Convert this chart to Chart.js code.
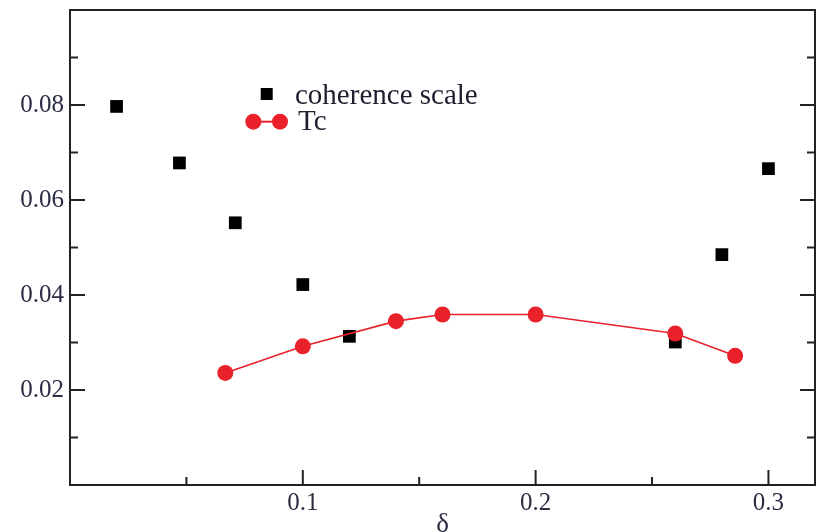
<!DOCTYPE html>
<html>
<head>
<meta charset="utf-8">
<script src="https://cdn.jsdelivr.net/npm/chart.js@4"></script>
<style>
  html, body { margin: 0; padding: 0; background: #fff; }
  #wrap { width: 819px; height: 532px; }
</style>
</head>
<body>
<div id="wrap"><canvas id="c" width="819" height="532"></canvas></div>
<script>
// ---- data ----
const coherenceX = [0.020, 0.047, 0.071, 0.100, 0.120, 0.260, 0.280, 0.300];
const coherenceY = [0.0797, 0.0678, 0.0552, 0.0422, 0.0313, 0.0301, 0.0485, 0.0666];
const tcX = [0.0667, 0.100, 0.140, 0.160, 0.200, 0.260, 0.2857];
const tcY = [0.0236, 0.0292, 0.0345, 0.0359, 0.0359, 0.0319, 0.0272];
const xMajorTicks = [0.1, 0.2, 0.3];
const xMinorTicks = [0.05, 0.15, 0.25];
const yMajorTicks = [0.02, 0.04, 0.06, 0.08];
const yMinorTicks = [0.01, 0.03, 0.05, 0.07, 0.09];
const seriesNames = ['coherence scale', 'Tc'];
const xTitle = 'δ';

const SERIF = "'Liberation Serif', 'Times New Roman', serif";
const RED = '#e8212b';
const FRAME = '#222';
const TEXT = '#2b2d45';

const framePlugin = {
  id: 'frameTicks',
  afterDraw(chart) {
    const ctx = chart.ctx, a = chart.chartArea;
    const xs = chart.scales.x, ys = chart.scales.y;
    ctx.save();
    ctx.strokeStyle = FRAME;
    ctx.lineWidth = 2;
    ctx.strokeRect(a.left, a.top, a.right - a.left, a.bottom - a.top);
    const major = 15, minor = 8;
    ctx.beginPath();
    xMajorTicks.forEach(v => { const p = xs.getPixelForValue(v); ctx.moveTo(p, a.bottom); ctx.lineTo(p, a.bottom - major); });
    xMinorTicks.forEach(v => { const p = xs.getPixelForValue(v); ctx.moveTo(p, a.bottom); ctx.lineTo(p, a.bottom - minor); });
    yMajorTicks.forEach(v => { const p = ys.getPixelForValue(v);
      ctx.moveTo(a.left, p); ctx.lineTo(a.left + major, p);
      ctx.moveTo(a.right, p); ctx.lineTo(a.right - major, p); });
    yMinorTicks.forEach(v => { const p = ys.getPixelForValue(v);
      ctx.moveTo(a.left, p); ctx.lineTo(a.left + minor, p);
      ctx.moveTo(a.right, p); ctx.lineTo(a.right - minor, p); });
    ctx.stroke();

    // legend inside the plot
    const ds0 = chart.data.datasets[0], ds1 = chart.data.datasets[1];
    const lx = a.left, ly = a.top;
    ctx.fillStyle = ds0.pointBackgroundColor;
    ctx.fillRect(lx + 190.7, ly + 78, 12, 12);
    ctx.strokeStyle = ds1.borderColor;
    ctx.lineWidth = 2;
    ctx.beginPath(); ctx.moveTo(lx + 183.3, ly + 111.7); ctx.lineTo(lx + 210, ly + 111.7); ctx.stroke();
    ctx.fillStyle = ds1.pointBackgroundColor;
    [183.3, 210].forEach(dx => { ctx.beginPath(); ctx.arc(lx + dx, ly + 111.7, 8, 0, Math.PI * 2); ctx.fill(); });
    ctx.fillStyle = '#1e1e30';
    ctx.font = "29px " + SERIF;
    ctx.textBaseline = 'alphabetic';
    ctx.textAlign = 'left';
    ctx.fillText(ds0.label, lx + 225, ly + 94);
    ctx.fillText(ds1.label, lx + 228, ly + 120);
    ctx.restore();
  }
};

new Chart(document.getElementById('c'), {
  type: 'scatter',
  data: {
    datasets: [
      {
        label: seriesNames[0],
        data: coherenceX.map((x, i) => ({ x, y: coherenceY[i] })),
        showLine: false,
        pointStyle: 'rect',
        pointRadius: 9,
        pointHoverRadius: 9,
        pointBackgroundColor: '#000',
        pointBorderWidth: 0,
        borderColor: '#000',
        order: 2
      },
      {
        label: seriesNames[1],
        data: tcX.map((x, i) => ({ x, y: tcY[i] })),
        showLine: true,
        borderColor: RED,
        borderWidth: 1.6,
        pointStyle: 'circle',
        pointRadius: 8,
        pointHoverRadius: 8,
        pointBackgroundColor: RED,
        pointBorderWidth: 0,
        order: 1
      }
    ]
  },
  options: {
    responsive: false,
    animation: false,
    layout: { autoPadding: false, padding: { top: 10, right: 4, left: 0, bottom: 0 } },
    plugins: { legend: { display: false }, tooltip: { enabled: false } },
    scales: {
      x: {
        type: 'linear', min: 0, max: 0.32,
        grid: { display: false, drawTicks: false },
        border: { display: false },
        afterBuildTicks: s => { s.ticks = xMajorTicks.map(v => ({ value: v })); },
        afterFit: s => { s.height = 47; s.paddingLeft = 0; s.paddingRight = 0; },
        ticks: {
          padding: 3,
          color: TEXT,
          font: { family: SERIF, size: 25 },
          callback: v => Number(v).toFixed(1)
        },
        title: {
          display: true, text: xTitle, color: TEXT,
          font: { family: SERIF, size: 27, lineHeight: 1 },
          padding: { top: 0, bottom: -6 }
        }
      },
      y: {
        type: 'linear', min: 0, max: 0.1,
        grid: { display: false, drawTicks: false },
        border: { display: false },
        afterBuildTicks: s => { s.ticks = yMajorTicks.map(v => ({ value: v })); },
        afterFit: s => { s.width = 70; s.paddingTop = 0; s.paddingBottom = 0; },
        ticks: {
          padding: 6,
          color: TEXT,
          font: { family: SERIF, size: 25 },
          callback: v => Number(v).toFixed(2)
        }
      }
    }
  },
  plugins: [framePlugin]
});
</script>
</body>
</html>
